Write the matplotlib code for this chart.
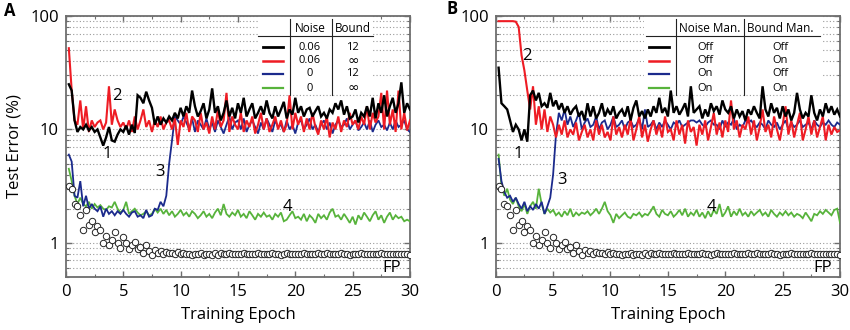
#!/usr/bin/env python3
"""Test error vs training epoch, two panels (A: noise/bound, B: manipulation)."""

import matplotlib

matplotlib.use("Agg")
import matplotlib.pyplot as plt
import numpy as np
from matplotlib.patches import Rectangle
from matplotlib.ticker import FixedLocator, LogLocator, NullFormatter, MultipleLocator

plt.rcParams["font.family"] = ["Open Sans", "DejaVu Sans"]

# epochs are sampled every quarter epoch, 120 samples per curve
EPOCH_STEP = 0.25
N_SAMPLES = 120

# ---- panel A -------------------------------------------------------------
A_BLACK = [
    25, 22, 12, 9.5, 10.5, 10, 11, 9.8, 10.5, 9.5, 10, 8.5, 7.2, 8.5, 10.5, 8,
    7.8, 9, 10, 9.5, 10.8, 9, 11, 9.3, 20, 19, 17, 21.5, 18, 15.5, 11, 13,
    11, 12.5, 11.5, 13, 12, 14, 12.5, 15.5, 13, 16, 14, 22, 16, 13, 14.5, 17,
    12.5, 15, 23, 14, 16, 12, 14, 18, 13, 15.5, 12.5, 17, 14, 19, 13, 15,
    17, 12.5, 14, 16, 13.5, 18, 14, 12.5, 16, 13, 15, 17.5, 12.5, 15, 13.5, 19,
    14, 16, 13, 15, 15.5, 13, 14.5, 16, 13, 14, 12.5, 15, 14, 17, 15, 18,
    13.5, 16, 12.5, 13, 15, 11.5, 14, 13, 16, 13, 19, 12.5, 17, 14, 20, 13,
    16, 19, 14, 17, 26, 14, 17, 15,
]
A_RED = [
    52, 22, 12, 11, 18, 10, 16, 9.5, 12, 10.5, 11.5, 12, 10, 11.5, 24, 11,
    15, 12, 10.5, 11.5, 10, 12, 9.5, 13, 10, 12, 15, 10.5, 12, 9.5, 12, 10.5,
    13, 10, 11.5, 12, 10, 12.5, 7.3, 12, 10.5, 14, 9.5, 13, 12, 9.5, 14, 10,
    11.5, 9.2, 13, 10, 15, 10.5, 12, 21, 9.5, 13, 11, 10, 14, 9.5, 12, 10.5,
    13, 9.2, 11, 14, 10, 12.5, 9.5, 11, 13, 10, 12, 9.5, 11, 20, 10, 14,
    11, 13, 9.5, 12.5, 10, 14, 10.5, 9, 12, 10, 13, 8.5, 11.5, 10, 13, 9.5,
    12, 10.5, 14, 11, 12, 10, 13, 11, 16, 10, 14, 11.5, 13, 21, 10, 22,
    11, 15, 9.5, 22, 10, 14, 9.8, 12,
]
A_BLUE = [
    6, 5.2, 2.6, 2.5, 3.5, 2.1, 2.6, 2.0, 2.2, 2.0, 1.9, 2.1, 1.7, 2.0, 1.8, 1.9,
    1.75, 1.9, 1.8, 1.95, 1.8, 1.7, 1.85, 1.9, 1.7, 1.75, 1.65, 1.95, 1.7, 1.75, 2.0, 1.95,
    2.3, 2.1, 2.6, 5, 8, 13, 12, 11, 13, 11.5, 10, 12.5, 9.5, 12, 11, 10,
    12.5, 10, 11.5, 9.5, 12, 10.5, 9.2, 11, 13, 10, 11.5, 12, 10, 12.5, 9.5, 11,
    12, 10.5, 9.2, 11.5, 10, 12.5, 11, 9.5, 12, 10.5, 11, 9.5, 12, 10, 11, 9.2,
    11.5, 12, 10, 11, 12.5, 10, 11, 9.5, 11, 12, 10, 11.5, 9.2, 11, 12, 10.5,
    11, 12.5, 10, 11, 12, 9.8, 10.5, 11.5, 10, 12, 9.5, 11, 12, 10.5, 11, 9.8,
    11.5, 10, 12, 10.5, 11, 12, 10, 9.5,
]
A_GREEN = [
    4.5, 3.5, 2.6, 2.2, 2.5, 2.2, 2.1, 2.3, 2.0, 2.2, 2.05, 2.15, 2.0, 1.95, 2.1, 2.05,
    2.3, 2.0, 1.85, 1.95, 2.3, 1.8, 1.9, 2.0, 1.85, 1.75, 1.8, 1.9, 1.75, 1.8, 2.0, 1.85,
    2.0, 1.8, 1.95, 1.75, 1.9, 1.7, 1.8, 1.95, 1.75, 1.85, 1.7, 1.9, 1.8, 1.65, 1.75, 1.9,
    1.7, 1.8, 1.65, 1.85, 2.0, 1.75, 2.2, 1.8, 1.7, 1.85, 1.75, 1.95, 1.7, 1.8, 1.65, 1.9,
    1.75, 1.6, 1.8, 1.7, 1.85, 1.7, 1.75, 1.6, 1.8, 1.7, 1.85, 1.55, 1.6, 1.75, 1.9, 1.65,
    1.7, 1.6, 1.8, 1.55, 1.75, 1.65, 1.5, 1.8, 1.65, 1.75, 1.6, 1.85, 2.0, 1.7, 1.75, 1.6,
    1.8, 1.65, 1.5, 1.7, 1.45, 1.75, 1.6, 1.85, 1.7, 1.55, 1.75, 1.9, 1.6, 1.75, 1.5, 1.7,
    1.85, 1.6, 1.75, 1.65, 1.7, 1.55, 1.6, 1.55,
]

# ---- panel B -------------------------------------------------------------
B_BLACK = [
    35, 17, 16, 15, 12, 9.5, 11, 10, 8, 10, 7.8, 20, 22, 18, 21, 16,
    17, 15.5, 21, 16, 18, 15, 17, 14, 16, 13.5, 15, 16, 13, 14.5, 12, 17,
    13, 16, 12.5, 14, 17, 13, 15, 13.5, 16, 12.5, 14, 15, 13, 16, 12, 15.5,
    18, 13, 14.5, 12.5, 15, 13, 16, 14, 19, 14, 15.5, 13, 22, 14, 16, 13.5,
    15, 17, 13, 24, 14, 15, 16, 12.5, 15, 13, 17, 14.5, 16, 13.5, 18, 15,
    14, 16, 12.5, 15, 13, 14.5, 12, 15, 13.5, 16, 14, 12.5, 24, 15, 13, 17,
    14, 15.5, 12.5, 16, 13, 15, 12, 14, 21, 15, 12.5, 14, 13, 20, 14, 12,
    15, 13, 17, 14, 16, 13.5, 15, 13,
]
B_RED = [
    90, 90, 90, 90, 90, 90, 89, 80, 45, 33, 22, 15, 24, 11, 16, 10,
    15, 9.5, 13, 11, 8.5, 11, 9, 12, 8.5, 10, 9, 11.5, 8, 9.5, 11, 8.5,
    10, 8, 12, 9, 11, 8.5, 9.5, 8, 13, 9, 10.5, 8.5, 11, 9, 12.5, 8,
    10, 13, 8.5, 11, 7.8, 10, 12, 9, 11, 8.5, 13, 9.5, 10, 8, 12, 9,
    11, 7.5, 12, 9.5, 10.5, 7.2, 11, 9, 12, 8, 10.5, 14, 9, 11.5, 8.5, 12,
    9.5, 18, 10, 12, 8.5, 11, 10, 13, 9, 12, 8, 10.5, 15, 9.5, 11, 8.5,
    13, 10, 8, 11, 16, 9, 12, 8.5, 11, 14, 8, 10, 13, 9, 12, 8.5,
    10.5, 13, 8, 11, 9, 10.5, 9.5, 9.8,
]
B_BLUE = [
    5.5, 3.5, 2.8, 2.5, 2.6, 2.3, 2.5, 2.2, 2.0, 2.3, 1.9, 2.1, 1.95, 2.2, 2.0, 2.3,
    1.8, 2.1, 2.5, 4, 9, 14, 12, 15, 11, 13, 10.5, 12, 14, 10, 11.5, 12.5,
    10.5, 11, 13, 10, 11.5, 12, 10, 11, 13, 10.5, 11, 12, 10, 11.5, 12, 10.5,
    11, 12.5, 10, 15, 10.5, 11, 12, 10, 11.5, 10.5, 12, 11, 10, 11.5, 11, 12,
    10.5, 11, 11.5, 12, 12, 11.5, 12, 11, 10.5, 11.5, 12, 11, 11, 10, 12, 10.5,
    11.5, 11, 12.5, 10, 11, 10.5, 12, 11.5, 12, 11, 10.5, 11.5, 11, 10, 12, 11,
    10.5, 11.5, 10, 11, 12, 10, 11.5, 10.5, 11, 12, 10.5, 11, 11.5, 10, 12, 11,
    10.5, 11.5, 11, 12, 11, 10.5, 11.5, 11,
]
B_GREEN = [
    6, 3.2, 2.6, 3.0, 2.4, 2.2, 2.5, 2.1, 1.9, 2.2, 1.8, 2.1, 2.3, 2.0, 3.0, 2.2,
    1.8, 2.0, 1.85, 1.95, 1.75, 1.85, 1.7, 1.9, 1.75, 2.0, 1.7, 1.85, 1.75, 1.85, 1.8, 1.9,
    1.75, 1.85, 2.0, 1.8, 2.0, 2.3, 1.9, 1.75, 1.5, 1.8, 1.65, 1.75, 1.85, 1.7, 1.65, 1.8,
    1.75, 1.85, 1.7, 1.8, 1.75, 1.9, 2.1, 1.8, 1.7, 1.95, 1.8, 1.75, 1.9, 1.7, 1.8, 1.95,
    1.75, 2.0, 1.7, 1.85, 1.75, 1.95, 1.7, 1.85, 1.65, 1.9, 1.7, 1.95, 1.8, 2.2, 1.7, 1.85,
    2.1, 1.7, 1.9, 1.75, 2.0, 1.75, 1.85, 1.7, 1.9, 1.75, 1.85, 1.95, 1.75, 1.85, 1.7, 1.95,
    1.8, 1.7, 1.85, 1.75, 1.9, 1.75, 1.85, 1.7, 1.8, 1.75, 1.65, 1.85, 1.7, 1.55, 1.8, 1.75,
    1.9, 1.8, 1.95, 1.85, 1.75, 1.95, 2.0, 1.5,
]

# floating-point baseline (same run shown in both panels)
FP_ERROR = [
    3.2, 3.0, 2.2, 2.1, 1.75, 1.3, 1.95, 1.45, 1.55, 1.25, 1.4, 1.3, 1.0, 1.15, 0.96, 1.05,
    1.25, 1.0, 0.9, 1.12, 1.0, 0.88, 0.95, 1.02, 0.88, 0.92, 0.82, 0.96, 0.85, 0.78, 0.86, 0.82,
    0.84, 0.8, 0.83, 0.81, 0.82, 0.8, 0.83, 0.79, 0.81, 0.79, 0.8, 0.78, 0.8, 0.79, 0.81, 0.78,
    0.79, 0.8, 0.78, 0.81, 0.78, 0.82, 0.79, 0.8, 0.81, 0.79, 0.8, 0.79, 0.8, 0.81, 0.79, 0.8,
    0.79, 0.8, 0.81, 0.79, 0.8, 0.79, 0.8, 0.81, 0.79, 0.8, 0.78, 0.8, 0.81, 0.79, 0.8, 0.8,
    0.79, 0.8, 0.81, 0.79, 0.8, 0.79, 0.8, 0.81, 0.8, 0.79, 0.81, 0.8, 0.79, 0.8, 0.8, 0.81,
    0.8, 0.79, 0.78, 0.8, 0.79, 0.8, 0.81, 0.79, 0.8, 0.79, 0.8, 0.79, 0.8, 0.81, 0.79, 0.8,
    0.79, 0.8, 0.8, 0.79, 0.8, 0.79, 0.8, 0.78,
]

A_HEADERS = ["Noise", "Bound"]
A_COL1 = ["0.06", "0.06", "0", "0"]
A_COL2 = ["12", "\u221e", "12", "\u221e"]
B_HEADERS = ["Noise Man.", "Bound Man."]
B_COL1 = ["Off", "Off", "On", "On"]
B_COL2 = ["Off", "On", "Off", "On"]

# curve tags: (label, x epoch, y error)
A_TAGS = [("1", 3.6, 6.1), ("2", 4.4, 19.8), ("3", 8.2, 4.25), ("4", 19.3, 2.05), ("FP", 28.4, 0.6)]
B_TAGS = [("1", 1.95, 6.1), ("2", 2.75, 44), ("3", 5.8, 3.6), ("4", 18.8, 2.07), ("FP", 28.5, 0.6)]

COLORS = {"black": "#000000", "red": "#ee1c24", "blue": "#1b2a8c", "green": "#57b33b"}
WIDTHS = {"black": 1.7, "red": 1.5, "blue": 1.3, "green": 1.3}
FRAME = "#6e6e6e"


def style_axes(ax):
    ax.set_yscale("log")
    ax.set_xlim(0, 30)
    ax.set_ylim(0.5, 100)
    ax.yaxis.set_major_locator(FixedLocator([1, 10, 100]))
    ax.yaxis.set_minor_locator(LogLocator(base=10, subs=np.arange(2, 10)))
    ax.yaxis.set_minor_formatter(NullFormatter())
    ax.set_yticklabels(["1", "10", "100"])
    ax.xaxis.set_major_locator(MultipleLocator(5))
    ax.xaxis.set_minor_locator(MultipleLocator(2.5))
    ax.tick_params(which="both", direction="in", top=True, right=True,
                   color=FRAME, labelsize=12)
    ax.tick_params(which="major", length=4, width=1.0, pad=5)
    ax.tick_params(which="minor", length=2.5, width=0.8)
    ax.grid(True, which="both", axis="y", linestyle=(0, (1, 2)),
            color="#9a9a9a", linewidth=0.8)
    for spine in ax.spines.values():
        spine.set_color(FRAME)
        spine.set_linewidth(1.3)
    ax.set_xlabel("Training Epoch", fontsize=12, labelpad=5)


def draw_curves(ax, epochs, black, red, blue, green):
    for key, values in (("green", green), ("blue", blue), ("red", red), ("black", black)):
        ax.plot(epochs, values, color=COLORS[key], linewidth=WIDTHS[key],
                solid_joinstyle="miter", zorder=3)
    ax.plot(epochs, FP_ERROR, linestyle="none", marker="o", markersize=4.6,
            markerfacecolor="white", markeredgecolor="#222222",
            markeredgewidth=0.7, zorder=4)


def draw_table(ax, box, hline, vlines, head_x, col_x, sample_x, headers, col1, col2):
    tr = ax.transAxes
    ax.add_patch(Rectangle((box[0], box[2]), box[1] - box[0], 1 - box[2],
                           transform=tr, facecolor="white", edgecolor="none", zorder=2))
    ax.plot(hline, [0.923, 0.923], transform=tr, color="#222222", linewidth=0.8, zorder=5)
    for vx in vlines:
        ax.plot([vx, vx], [0.697, 0.99], transform=tr, color="#222222", linewidth=0.8, zorder=5)
    for hx, text in zip(head_x, headers):
        ax.text(hx, 0.953, text, transform=tr, ha="center", va="center", fontsize=8.5, zorder=6)
    rows_y = [0.881, 0.828, 0.778, 0.724]
    for key, ry, a, b in zip(("black", "red", "blue", "green"), rows_y, col1, col2):
        ax.plot(sample_x, [ry, ry], transform=tr, color=COLORS[key],
                linewidth=WIDTHS[key] + 0.3, zorder=5)
        for cx, text in zip(col_x, (a, b)):
            if text == "\u221e":
                ax.text(cx, ry, text, transform=tr, ha="center", va="center",
                        fontsize=10, family="DejaVu Sans", zorder=6)
            else:
                ax.text(cx, ry, text, transform=tr, ha="center", va="center",
                        fontsize=8, zorder=6)


def main():
    epochs = EPOCH_STEP * np.arange(1, N_SAMPLES + 1)

    fig = plt.figure(figsize=(8.5, 3.3), dpi=100)
    ax_a = fig.add_axes([0.0776, 0.1606, 0.4047, 0.791])
    ax_b = fig.add_axes([0.5832, 0.1606, 0.4051, 0.791])

    for ax in (ax_a, ax_b):
        style_axes(ax)
    ax_a.set_ylabel("Test Error (%)", fontsize=12, labelpad=6)

    draw_curves(ax_a, epochs, A_BLACK, A_RED, A_BLUE, A_GREEN)
    draw_curves(ax_b, epochs, B_BLACK, B_RED, B_BLUE, B_GREEN)

    draw_table(ax_a, (0.558, 0.892, 0.705), [0.558, 0.892], [0.651, 0.773],
               [0.709, 0.834], [0.709, 0.834], [0.573, 0.631],
               A_HEADERS, A_COL1, A_COL2)
    draw_table(ax_b, (0.432, 0.945, 0.705), [0.437, 0.942], [0.525, 0.721],
               [0.620, 0.826], [0.608, 0.826], [0.445, 0.503],
               B_HEADERS, B_COL1, B_COL2)

    for ax, tags in ((ax_a, A_TAGS), (ax_b, B_TAGS)):
        for text, tx, ty in tags:
            ax.text(tx, ty, text, ha="center", va="center", fontsize=12, zorder=6)

    fig.text(0.011, 0.968, "A", fontsize=12, fontweight="bold", ha="center", va="center")
    fig.text(0.532, 0.972, "B", fontsize=12, fontweight="bold", ha="center", va="center")

    fig.savefig("out.png", dpi=100)
    plt.close(fig)


if __name__ == "__main__":
    main()
